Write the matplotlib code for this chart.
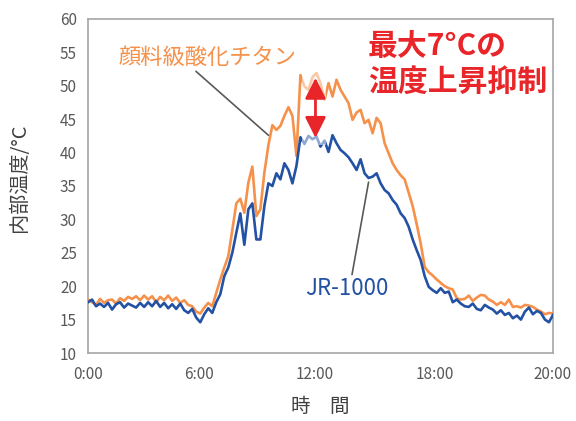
import numpy as np
import matplotlib
matplotlib.use("Agg")
import matplotlib.pyplot as plt
from matplotlib.patches import Rectangle

plt.rcParams['font.family'] = ['Noto Sans CJK JP', 'DejaVu Sans']

# 内部温度 (°C), サンプル番号ごと
orange_temp = [18.0, 17.6, 17.2, 18.1, 17.5, 17.9, 18.0, 17.4, 18.2, 17.8,
               18.4, 18.1, 18.5, 17.9, 18.6, 18.0, 18.5, 17.6, 18.4, 17.9,
               18.6, 17.8, 18.3, 17.5, 17.9, 17.2, 17.0, 16.2, 15.9, 16.8,
               17.5, 17.0, 19.0, 21.0, 22.8, 24.5, 28.4, 32.4, 33.1, 31.0,
               35.5, 37.9, 30.5, 31.5, 37.0, 41.1, 44.1, 43.4, 44.0, 45.5,
               46.8, 45.5, 39.5, 51.6, 49.9, 49.4, 51.3, 51.9, 50.4, 47.9,
               50.4, 48.4, 50.9, 49.4, 48.4, 47.4, 44.9, 46.0, 46.4, 44.4,
               44.9, 42.9, 45.2, 44.4, 41.4, 39.9, 38.4, 37.4, 36.6, 36.0,
               34.0, 32.0, 29.3, 26.4, 22.9, 22.1, 21.6, 21.0, 20.5, 20.0,
               19.7, 19.5, 18.2, 18.0, 18.1, 18.6, 17.8, 18.3, 18.7, 18.6,
               18.0, 17.7, 17.2, 17.6, 17.2, 18.0, 16.9, 17.0, 16.8, 17.2,
               17.1, 16.9, 16.5, 16.2, 15.8, 16.0, 15.9]
blue_temp = [17.6, 18.0, 17.0, 17.4, 16.9, 17.5, 16.5, 17.3, 17.6, 16.8,
             17.4, 17.1, 16.8, 17.5, 16.9, 17.6, 17.0, 17.8, 16.9, 17.5,
             16.7, 17.3, 16.6, 17.4, 16.4, 16.0, 16.6, 15.3, 14.6, 15.8,
             16.7, 16.0, 17.6, 18.8, 21.5, 22.8, 25.0, 28.0, 30.9, 26.2,
             31.5, 32.4, 27.0, 27.0, 32.0, 35.4, 35.0, 36.9, 36.0, 38.4,
             37.4, 35.4, 38.0, 42.3, 41.3, 42.5, 42.0, 42.4, 40.9, 41.8,
             40.1, 42.6, 41.4, 40.4, 39.9, 39.3, 38.4, 37.4, 39.0, 36.9,
             36.2, 36.4, 36.9, 35.4, 34.4, 33.9, 32.9, 32.2, 30.9, 30.2,
             28.9, 27.0, 25.4, 23.9, 21.5, 19.9, 19.4, 19.0, 19.7, 19.0,
             19.2, 17.6, 18.0, 17.4, 17.0, 16.9, 17.4, 16.6, 16.4, 17.2,
             16.8, 16.5, 15.9, 16.4, 15.7, 16.0, 15.2, 15.6, 15.0, 16.2,
             16.8, 15.8, 16.3, 16.0, 15.0, 14.6, 15.7]

tick_pos = [0, 27.75, 56.5, 86.5, 116]
tick_labels = ["0:00", "6:00", "12:00", "18:00", "20:00"]
y_ticks = [10, 15, 20, 25, 30, 35, 40, 45, 50, 55, 60]

c_orange = "#f5914a"
c_blue = "#2352a4"
c_red = "#e8262a"
c_gray = "#595959"

x = np.arange(len(orange_temp))

fig = plt.figure(figsize=(5.76, 4.21), dpi=100)
ax = fig.add_axes([0.1528, 0.1615, 0.8072, 0.7934])

ax.plot(x, orange_temp, color=c_orange, lw=1.9, zorder=3)
ax.plot(x, blue_temp, color=c_blue, lw=1.9, zorder=3)

ax.set_xlim(0, len(x) - 1)
ax.set_ylim(10, 60)
ax.set_xticks(tick_pos)
ax.set_xticklabels(tick_labels)
ax.set_yticks(y_ticks)
ax.tick_params(length=0, labelsize=11, colors=c_gray)
ax.tick_params(axis='x', pad=9)
ax.tick_params(axis='y', pad=8)
for s in ax.spines.values():
    s.set_color("#a6a6a6")
    s.set_linewidth(1.2)

ax.set_ylabel("内部温度/°C", fontsize=14.5, color="#404040")
ax.yaxis.set_label_coords(-0.125, 0.525)
ax.set_xlabel("時\u3000間", fontsize=14, color="#404040", labelpad=10)

# 矢印の後ろの白い帯
ax.add_patch(Rectangle((53.5, 41.2), 6.0, 11.8, facecolor="white",
                       edgecolor="none", alpha=0.5, zorder=4))
ax.annotate("", xy=(56.75, 51.2), xytext=(56.75, 42.2),
            arrowprops=dict(arrowstyle="<|-|>,head_length=0.9,head_width=0.45",
                            color=c_red, lw=2, mutation_scale=14,
                            shrinkA=0, shrinkB=0),
            zorder=5)

ax.annotate("顔料級酸化チタン", xy=(45, 42.6), xytext=(7.5, 54.3),
            fontsize=16, color=c_orange, va="center", ha="left",
            arrowprops=dict(arrowstyle="-", color=c_gray, lw=1.2,
                            shrinkA=0, shrinkB=0, relpos=(0.42, 0)))
ax.annotate("JR-1000", xy=(70.3, 36.6), xytext=(54.3, 19.6),
            fontsize=16, color=c_blue, va="center", ha="left",
            arrowprops=dict(arrowstyle="-", color=c_gray, lw=1.2,
                            shrinkA=0, shrinkB=5, relpos=(0.55, 1)))

ax.text(69.8, 48.3, "最大7°Cの\n温度上昇抑制", fontsize=21.5, fontweight="bold",
        color=c_red, ha="left", va="bottom", linespacing=1.25)

fig.savefig("out.png", dpi=100)
